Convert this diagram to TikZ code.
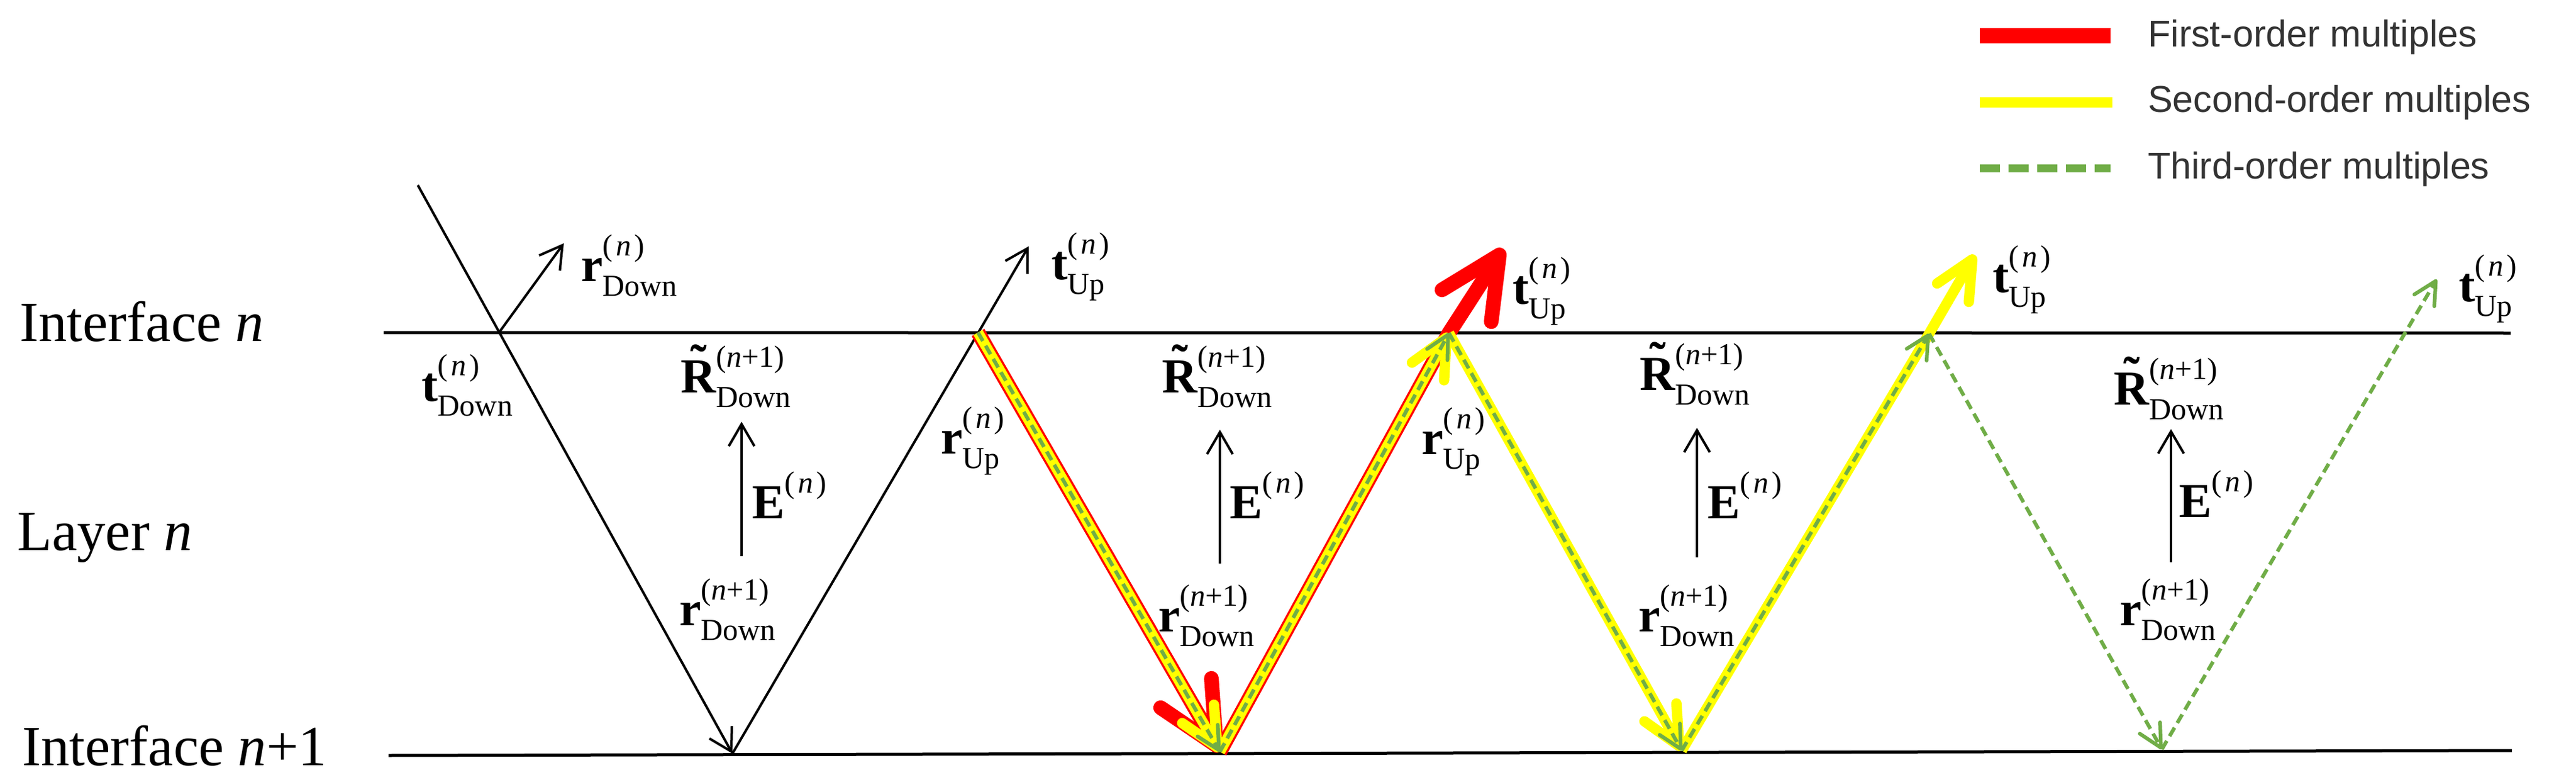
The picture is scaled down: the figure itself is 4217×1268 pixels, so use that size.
\documentclass[tikz,border=0pt]{standalone}
\usepackage{fontspec}
\setmainfont{Liberation Serif}
\newfontfamily\legfont{Liberation Sans}
\usetikzlibrary{arrows.meta}
\definecolor{mred}{RGB}{255,0,0}
\definecolor{myel}{RGB}{255,255,0}
\definecolor{mgrn}{RGB}{112,173,71}
\newcommand{\bigsz}{\fontsize{80}{80}\selectfont}
\newcommand{\smsz}{\fontsize{50}{50}\selectfont}
\newcommand{\lab}[3]{\bigsz\textbf{#1}\rlap{\raisebox{0.52em}{\smsz#2}}\raisebox{-0.31em}{\smsz #3}}
\newcommand{\sn}{(\kern0.1em\textit{n}\kern0.1em)}
\newcommand{\snp}{(\textit{n}+1)}
\newcommand{\tildeR}{\setbox0\hbox{\textbf{R}}\rlap{\hbox to \wd0{\hss\raisebox{0.28em}{\textbf{\char"02DC}}\hss}}\box0}
\begin{document}
\begin{tikzpicture}[x=1pt,y=-1pt,
  blk/.style={line width=4pt, -{Straight Barb[length=36pt,width=42pt]}},
  iface/.style={line width=5pt},
  redp/.style={draw=mred, line width=24pt, -{Straight Barb[length=99pt,width=96pt,round]}},
  yelp/.style={draw=myel, line width=17pt, -{Straight Barb[length=63pt,width=60pt,round]}},
  grnp/.style={draw=mgrn, line width=6pt, dash pattern=on 16pt off 9pt, -{Straight Barb[length=37pt,width=38pt,round]}},
  lbl/.style={anchor=base west, inner sep=0pt},
  side/.style={anchor=base west, inner sep=0pt, font=\fontsize{93}{100}\selectfont},
  leg/.style={anchor=base west, inner sep=0pt, text=black!80, font=\legfont\fontsize{61}{61}\selectfont}]
\useasboundingbox (0,0) rectangle (4217,1268);
\fill[white] (0,0) rectangle (4217,1268);

% coordinates
\coordinate (i1l) at (628,544);  \coordinate (i1r) at (4110,545);
\coordinate (i2l) at (636,1236); \coordinate (i2r) at (4112,1228);
\coordinate (I0) at (684,303);  \coordinate (C0) at (817,544);
\coordinate (B1) at (1199,1233); \coordinate (T1) at (1684,403);
\coordinate (RD) at (923,398);
\coordinate (A1) at (1601,544); \coordinate (B2) at (1997,1230);
\coordinate (A2) at (2372,545); \coordinate (T2) at (2461,407);
\coordinate (B3) at (2753,1228); \coordinate (A3) at (3158,546);
\coordinate (T3) at (3233,417);
\coordinate (B4) at (3539,1226); \coordinate (A4) at (3937,545);
\coordinate (T4) at (3989,457);
\coordinate (e1b) at (1214,910); \coordinate (e1t) at (1214,690);
\coordinate (e2b) at (1997,922); \coordinate (e2t) at (1997,703);
\coordinate (e3b) at (2778,912); \coordinate (e3t) at (2778,700);
\coordinate (e4b) at (3554,920); \coordinate (e4t) at (3554,702);
\coordinate (lgr1) at (3241,59);  \coordinate (lgr2) at (3455,59);
\coordinate (lgy1) at (3241,168); \coordinate (lgy2) at (3458,168);
\coordinate (lgg1) at (3241,275); \coordinate (lgg2) at (3455,275);

% interfaces
\draw[iface] (i1l) -- (i1r);
\draw[iface] (i2l) -- (i2r);

% side texts
\node[side] (tif1) at (32,558) {Interface \textit{n}};
\node[side] (tlay) at (28,900) {Layer \textit{n}};
\node[side] (tif2) at (36,1252) {Interface \textit{n}+1};

% black rays
\draw[blk] (I0) -- (B1);
\draw[blk] (B1) -- (T1);
\draw[blk] (C0) -- (RD);
\draw[blk] (e1b) -- (e1t);
\draw[blk] (e2b) -- (e2t);
\draw[blk] (e3b) -- (e3t);
\draw[blk] (e4b) -- (e4t);

% first-order (red)
\draw[redp] (A1) -- (B2);
\draw[redp] (B2) -- (A2) -- (T2);
% second-order (yellow)
\draw[yelp] (A1) -- (B2);
\draw[yelp] (B2) -- (A2);
\draw[yelp] (A2) -- (B3);
\draw[yelp] (B3) -- (A3) -- (T3);
% third-order (green dashed)
\draw[grnp] (A1) -- (B2);
\draw[grnp] (B2) -- (A2);
\draw[grnp] (A2) -- (B3);
\draw[grnp] (B3) -- (A3);
\draw[grnp] (A3) -- (B4);
\draw[grnp] (B4) -- (A4) -- (T4);

% labels
\node[lbl] (ltD) at (690,656) {\lab{t}{\sn}{Down}};
\node[lbl] (lrD) at (951,460) {\lab{r}{\sn}{Down}};
\node[lbl] (lR1) at (1114,642) {\lab{\tildeR}{\snp}{Down}};
\node[lbl] (lE1) at (1231,848) {\bigsz\textbf{E}\raisebox{0.52em}{\smsz\sn}};
\node[lbl] (lrr1) at (1112,1023) {\lab{r}{\snp}{Down}};
\node[lbl] (lrU1) at (1540,742) {\lab{r}{\sn}{Up}};
\node[lbl] (ltU1) at (1721,457) {\lab{t}{\sn}{Up}};

\node[lbl] (lR2) at (1902,642) {\lab{\tildeR}{\snp}{Down}};
\node[lbl] (lE2) at (2013,848) {\bigsz\textbf{E}\raisebox{0.52em}{\smsz\sn}};
\node[lbl] (lrr2) at (1896,1033) {\lab{r}{\snp}{Down}};
\node[lbl] (lrU2) at (2327,743) {\lab{r}{\sn}{Up}};
\node[lbl] (ltU2) at (2476,497) {\lab{t}{\sn}{Up}};

\node[lbl] (lR3) at (2684,638) {\lab{\tildeR}{\snp}{Down}};
\node[lbl] (lE3) at (2795,848) {\bigsz\textbf{E}\raisebox{0.52em}{\smsz\sn}};
\node[lbl] (lrr3) at (2682,1033) {\lab{r}{\snp}{Down}};
\node[lbl] (ltU3) at (3262,478) {\lab{t}{\sn}{Up}};

\node[lbl] (lR4) at (3460,662) {\lab{\tildeR}{\snp}{Down}};
\node[lbl] (lE4) at (3567,846) {\bigsz\textbf{E}\raisebox{0.52em}{\smsz\sn}};
\node[lbl] (lrr4) at (3470,1023) {\lab{r}{\snp}{Down}};
\node[lbl] (ltU4) at (4025,493) {\lab{t}{\sn}{Up}};

% legend
\draw[mred, line width=25pt] (lgr1) -- (lgr2);
\draw[myel, line width=17pt] (lgy1) -- (lgy2);
\draw[mgrn, line width=13pt, dash pattern=on 33pt off 14pt] (lgg1) -- (lgg2);
\node[leg] (leg1) at (3516,77) {First-order multiples};
\node[leg] (leg2) at (3516,184) {Second-order multiples};
\node[leg] (leg3) at (3516,292) {Third-order multiples};
\end{tikzpicture}
\end{document}
